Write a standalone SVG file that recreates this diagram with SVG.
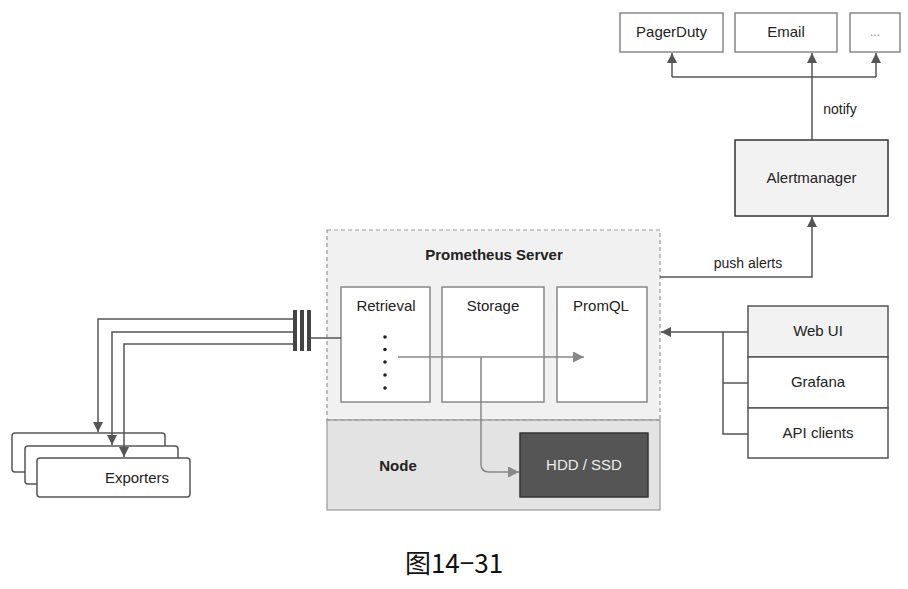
<svg xmlns="http://www.w3.org/2000/svg" width="908" height="589" viewBox="0 0 908 589">
<defs>
<marker id="ah" viewBox="0 0 10 10" refX="10" refY="5" markerWidth="10" markerHeight="10" markerUnits="userSpaceOnUse" orient="auto"><path d="M0,0 L10,5 L0,10 z" fill="#555"/></marker>
<marker id="ahg" viewBox="0 0 10 10" refX="10" refY="5" markerWidth="11" markerHeight="11" markerUnits="userSpaceOnUse" orient="auto"><path d="M0,0 L10,5 L0,10 z" fill="#888"/></marker>
<style>
.t{font-family:"Liberation Sans",Arial,sans-serif;font-size:15px;fill:#222;text-anchor:middle;dominant-baseline:middle}
.b{font-weight:bold}
.box{fill:#fff;stroke:#888;stroke-width:1.5}
.dk{fill:#f2f2f2;stroke:#333;stroke-width:1.5}
.ln{fill:none;stroke:#555;stroke-width:1.5}
.lg{fill:none;stroke:#888;stroke-width:1.5}
</style>
</defs>
<rect width="908" height="589" fill="#fff"/>

<g id="prometheus">
<rect x="327" y="230" width="333" height="190" fill="#f1f1f1" stroke="#999" stroke-width="1.2" stroke-dasharray="4,3"/>
<text class="t b" x="494" y="256">Prometheus Server</text>
</g>
<g id="node">
<rect x="327" y="420" width="333" height="90" fill="#e3e3e3" stroke="#999" stroke-width="1.2"/>
<line x1="327" y1="420" x2="660" y2="420" stroke="#999" stroke-width="1.2" stroke-dasharray="4,3"/>
<text class="t b" x="398" y="467">Node</text>
</g>
<g id="retrieval">
<rect class="box" x="341" y="287" width="89" height="115" stroke="#aaa"/>
<text class="t" x="386" y="307">Retrieval</text>
<g fill="#222"><circle cx="385" cy="337" r="1.8"/><circle cx="385" cy="349.5" r="1.8"/><circle cx="385" cy="362" r="1.8"/><circle cx="385" cy="375" r="1.8"/><circle cx="385" cy="388" r="1.8"/></g>
</g>
<g id="storage">
<rect class="box" x="442" y="287" width="102" height="115" stroke="#aaa"/>
<text class="t" x="493" y="307">Storage</text>
</g>
<g id="promql">
<rect class="box" x="557" y="287" width="90" height="115" stroke="#aaa"/>
<text class="t" x="601" y="307">PromQL</text>
</g>
<g id="hdd">
<rect x="520" y="433" width="128" height="64" fill="#555" stroke="#333" stroke-width="1.5"/>
<text class="t" x="584" y="466" style="fill:#eee">HDD / SSD</text>
</g>

<g id="pagerduty"><rect class="box" x="620" y="13" width="103" height="39"/><text class="t" x="671.5" y="33">PagerDuty</text></g>
<g id="email"><rect class="box" x="735" y="13" width="102" height="39"/><text class="t" x="786" y="33">Email</text></g>
<g id="more"><rect class="box" x="850" y="13" width="50" height="39"/><text class="t" x="875" y="33" style="fill:#888;font-size:12px">...</text></g>
<g id="alertmanager"><rect class="dk" x="735" y="140" width="153" height="76"/><text class="t" x="811.5" y="179">Alertmanager</text></g>

<g id="clients">
<rect x="748" y="306" width="140" height="51" fill="#f2f2f2" stroke="#555" stroke-width="1.5"/>
<text class="t" x="818" y="332">Web UI</text>
<rect x="748" y="357" width="140" height="51" fill="#fff" stroke="#555" stroke-width="1.5"/>
<text class="t" x="818" y="383">Grafana</text>
<rect x="748" y="408" width="140" height="50" fill="#fff" stroke="#555" stroke-width="1.5"/>
<text class="t" x="818" y="434">API clients</text>
</g>

<g id="exporters">
<rect x="12" y="433" width="153" height="39" rx="3" fill="#fff" stroke="#555" stroke-width="1.5"/>
<rect x="25" y="446" width="153" height="38" rx="3" fill="#fff" stroke="#555" stroke-width="1.5"/>
<rect x="37" y="458" width="153" height="39" rx="3" fill="#fff" stroke="#555" stroke-width="1.5"/>
<text class="t" x="137" y="479">Exporters</text>
</g>

<g id="pipe" fill="#444">
<rect x="293" y="310" width="4" height="41"/>
<rect x="300" y="310" width="4" height="41"/>
<rect x="307" y="310" width="4" height="41"/>
</g>

<g id="connectors">
<path class="ln" d="M812 140 V53" marker-end="url(#ah)"/>
<path class="ln" d="M672 77 H876"/>
<path class="ln" d="M672 77 V53" marker-end="url(#ah)"/>
<path class="ln" d="M876 77 V53" marker-end="url(#ah)"/>
<text class="t" x="840" y="110" style="font-size:14px">notify</text>

<path class="ln" d="M660 277 H812 V217" marker-end="url(#ah)"/>
<text class="t" x="748" y="264" style="font-size:14px">push alerts</text>

<path class="ln" d="M748 332 H661" marker-end="url(#ah)"/>
<path class="ln" d="M723 332 V434 H748 M723 383 H748"/>

<path class="ln" d="M311 338 H341"/>
<path class="ln" d="M293 319 H98 V432" marker-end="url(#ah)"/>
<path class="ln" d="M293 332 H112 V445" marker-end="url(#ah)"/>
<path class="ln" d="M293 344 H124 V457" marker-end="url(#ah)"/>

<path class="lg" d="M398 357 H584" marker-end="url(#ahg)"/>
<path class="lg" d="M481 357 V464 Q481 472 489 472 H519" marker-end="url(#ahg)"/>
</g>

<text x="454" y="566" style="font-family:'Noto Sans CJK SC',sans-serif;font-size:26px;fill:#111;text-anchor:middle;dominant-baseline:middle">图14−31</text>
</svg>
